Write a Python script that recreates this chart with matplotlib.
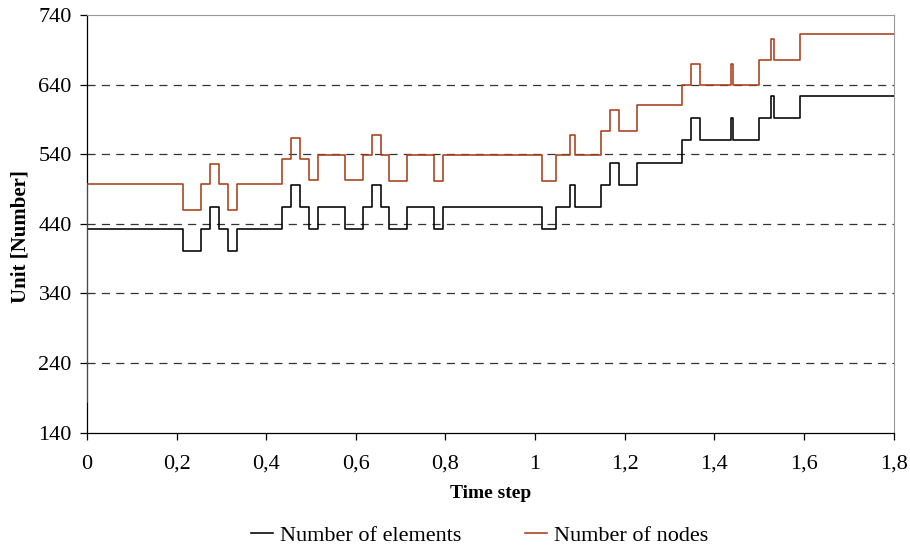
import numpy as np
import matplotlib.pyplot as plt

# change points (time) and values after each change, step 'post'
t_elem = [0, 0, 0.215, 0.255, 0.275, 0.295, 0.315, 0.335, 0.435, 0.455, 0.475, 0.495,
          0.515, 0.575, 0.615, 0.635, 0.655, 0.675, 0.715, 0.775, 0.795, 1.015, 1.047,
          1.077, 1.088, 1.148, 1.168, 1.187, 1.228, 1.328, 1.347, 1.368, 1.438, 1.442,
          1.5, 1.527, 1.534, 1.592, 1.8]
n_elem = [140, 433, 401, 433, 464, 433, 401, 433, 464, 496, 464, 433,
          464, 433, 464, 496, 464, 433, 464, 433, 464, 433, 464,
          496, 464, 496, 528, 496, 528, 560, 592, 560, 592, 560,
          592, 624, 592, 624, 624]

t_node = t_elem
n_node = [184, 497, 460, 497, 526, 497, 460, 497, 533, 563, 533, 503,
          539, 503, 539, 568, 539, 502, 539, 502, 539, 502, 539,
          568, 539, 574, 604, 574, 610, 640, 670, 640, 670, 640,
          676, 706, 676, 712, 712]

x_ticks = [0, 0.2, 0.4, 0.6, 0.8, 1.0, 1.2, 1.4, 1.6, 1.8]
x_labels = ['0', '0,2', '0,4', '0,6', '0,8', '1', '1,2', '1,4', '1,6', '1,8']
y_ticks = [140, 240, 340, 440, 540, 640, 740]

plt.rcParams['font.family'] = ['Liberation Serif', 'DejaVu Serif']

fig = plt.figure(figsize=(9.1, 5.47), dpi=100)
ax = fig.add_axes([0.0956, 0.209, 0.8864, 0.7636])

for y in y_ticks[1:-1]:
    ax.axhline(y, color='#333333', lw=0.9, ls=(0, (6.5, 5)), zorder=1)

ax.step(t_elem, n_elem, where='post', color='black', lw=1.15, label='Number of elements', zorder=3)
ax.step(t_node, n_node, where='post', color='#A8401A', lw=1.15, label='Number of nodes', zorder=3)

ax.set_xlim(0, 1.8)
ax.set_ylim(140, 740)
ax.set_xticks(x_ticks)
ax.set_xticklabels(x_labels)
ax.set_yticks(y_ticks)
ax.tick_params(axis='both', labelsize=16, direction='out', length=5, width=0.9)
ax.tick_params(axis='y', pad=6)
ax.tick_params(axis='x', pad=11)

ax.spines['top'].set_color('#999999')
ax.spines['right'].set_color('#999999')
ax.spines['left'].set_linewidth(0.9)
ax.spines['bottom'].set_linewidth(0.9)

ax.set_xlabel('Time step', fontsize=14, fontweight='bold')
ax.set_ylabel('Unit [Number]', fontsize=15, fontweight='bold')
ax.xaxis.set_label_coords(0.5, -0.125)
ax.yaxis.set_label_coords(-0.07, 0.47)

fig.legend(loc='center', bbox_to_anchor=(0.527, 0.021), ncol=2, frameon=False,
           fontsize=16, handlelength=1.0, handletextpad=0.3, columnspacing=2.85)

fig.savefig('out.png', dpi=100)
